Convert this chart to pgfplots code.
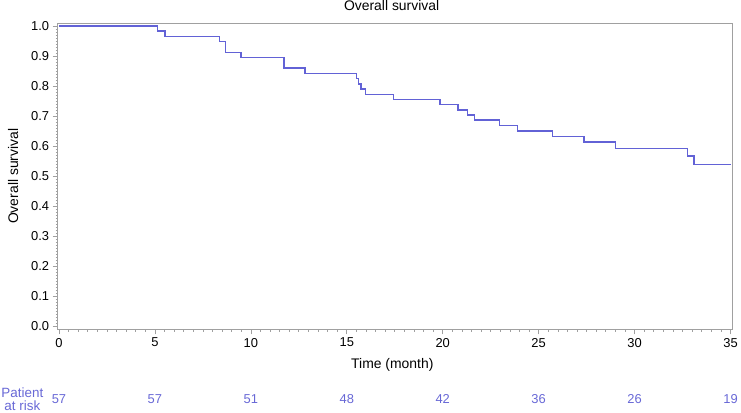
\documentclass[border=0pt]{standalone}
\usepackage{pgfplots}
\pgfplotsset{compat=1.18}
\usepackage{fontspec}
\setmainfont{Liberation Sans}

\definecolor{kmblue}{RGB}{98,98,214}
\definecolor{riskblue}{RGB}{104,104,214}
\definecolor{framegray}{RGB}{160,160,160}

\begin{document}
\begin{tikzpicture}
  \begin{axis}[
    scale only axis,
    width=679pt, height=308.3pt,
    xmin=-0.07, xmax=35.1,
    ymin=-0.011, ymax=1.009,
    xtick={0,5,...,35},
    ytick={0,0.1,...,1.0},
    minor x tick num=9,
    minor y tick num=9,
    tick pos=left,
    tick align=outside,
    major tick length=5pt,
    minor tick length=2pt,
    every tick/.style={framegray, line width=0.6pt},
    axis line style={framegray, line width=0.8pt},
    /pgf/number format/assume math mode=true,
    yticklabel style={/pgf/number format/.cd, fixed, fixed zerofill, precision=1},
    tick label style={font=\fontsize{13}{15}\selectfont, black},
    title={Overall survival},
    title style={font=\fontsize{14}{16}\selectfont, inner sep=0pt,
      at={(axis description cs:0.495,1.022)}, anchor=south},
    xlabel={Time (month)},
    xlabel style={font=\fontsize{14}{16}\selectfont, inner sep=0pt,
      at={(axis description cs:0.496,-0.117)}, anchor=center},
    ylabel={Overall survival},
    ylabel style={font=\fontsize{14}{16}\selectfont, inner sep=0pt,
      at={(axis description cs:-0.066,0.5)}, anchor=center},
    clip=false,
  ]
    % Kaplan-Meier estimate
    \addplot[const plot, kmblue, line width=1.5pt] coordinates {
      (0,1.000) (5.13,0.982) (5.53,0.965) (8.37,0.947) (8.68,0.912)
      (9.50,0.895) (11.74,0.860) (12.83,0.842) (15.50,0.825) (15.60,0.807)
      (15.75,0.789) (15.97,0.772) (17.44,0.755) (19.85,0.738) (20.80,0.720)
      (21.28,0.703) (21.67,0.686) (22.96,0.668) (23.90,0.650) (25.72,0.632)
      (27.36,0.613) (29.00,0.591) (32.75,0.566) (33.09,0.539) (35.00,0.539)
    };
    % patients at risk
    \addplot[draw=none, mark=none, nodes near coords, point meta=explicit symbolic,
      every node near coord/.style={anchor=center, text=riskblue,
        font=\fontsize{13}{15}\selectfont, inner sep=0pt}]
      coordinates {
      (0,-0.243)[57] (5,-0.243)[57] (10,-0.243)[51] (15,-0.243)[48]
      (20,-0.243)[42] (25,-0.243)[36] (30,-0.243)[26] (35,-0.243)[19]
    };
    \node[text=riskblue, align=center, inner sep=1.5pt,
      font=\fontsize{13.5}{14}\selectfont] at (axis cs:-1.906,-0.243) {Patient\\at risk};
  \end{axis}
\end{tikzpicture}
\end{document}
